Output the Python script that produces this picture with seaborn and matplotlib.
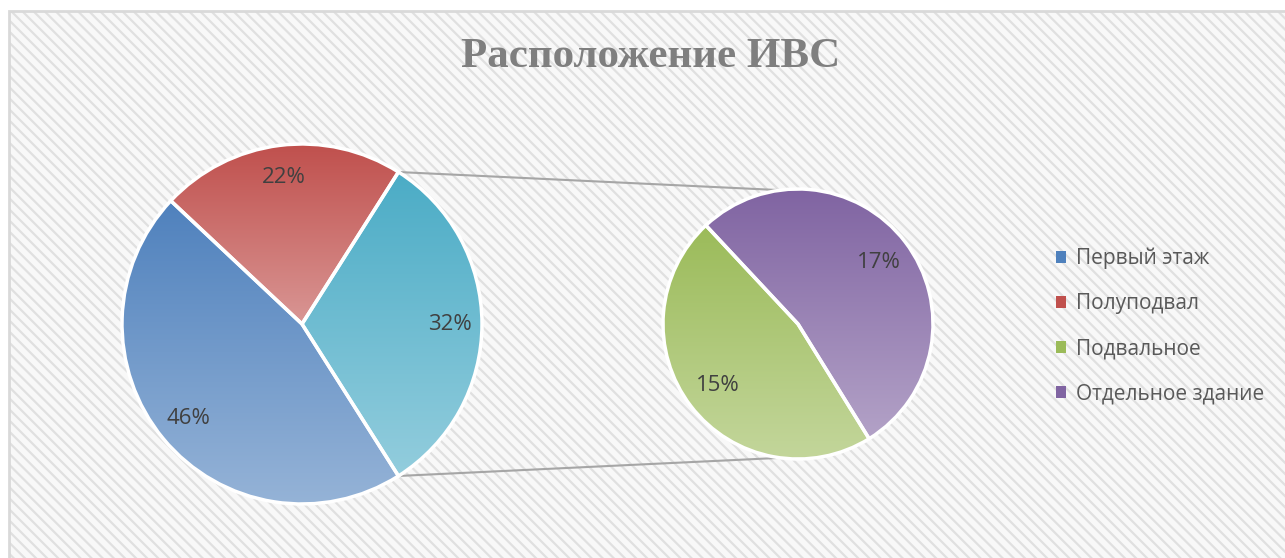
import numpy as np
import matplotlib
matplotlib.use("Agg")
import matplotlib.pyplot as plt
import seaborn as sns
from matplotlib.patches import Rectangle, Patch
from matplotlib.colors import LinearSegmentedColormap

# ---- data ----
title = "Расположение ИВС"
categories = ["Первый этаж", "Полуподвал", "Подвальное", "Отдельное здание"]
values = [46, 22, 15, 17]
main_labels = ["46%", "22%", "32%"]
sub_labels = ["15%", "17%"]
dark_colors = ["#4f81bd", "#c0504d", "#9bbb59", "#8064a2"]
light_colors = ["#95b3d7", "#d99694", "#c3d69b", "#b3a2c7"]
other_dark, other_light = "#4bacc6", "#93cddd"

sns.set_style("white")
plt.rcParams["font.family"] = ["Open Sans", "DejaVu Sans"]
plt.rcParams["hatch.linewidth"] = 1.6

W, H = 1285, 558
fig = plt.figure(figsize=(W / 100, H / 100), dpi=100)
ax = fig.add_axes([0, 0, 1, 1])
ax.set_xlim(0, W)
ax.set_ylim(0, H)
ax.axis("off")

# background with diagonal stripes
ax.add_patch(Rectangle((9, -20), W + 20, H - 11 + 20, facecolor="#f8f8f8",
                       edgecolor="#e0e0e0", hatch="\\\\\\", lw=0, zorder=0))
ax.add_patch(Rectangle((9, -20), W + 20, H - 11 + 20, facecolor="none",
                       edgecolor="#d9d9d9", lw=2, zorder=0.5))

main_vals = [values[0], values[1], values[2] + values[3]]
sub_vals = [values[2], values[3]]
main_center, main_r = (302, H - 324), 180
sub_center, sub_r = (798, H - 324), 135

wedge_props = dict(edgecolor="white", linewidth=2.5, facecolor="none")
text_props = dict(color="#404040", fontsize=16)

mw, mt = ax.pie(main_vals, labels=None, center=main_center, radius=main_r,
                counterclock=False, startangle=-57.6, wedgeprops=wedge_props,
                frame=True)
sw, st = ax.pie(sub_vals, labels=None, center=sub_center, radius=sub_r,
                counterclock=False, startangle=-58.2, wedgeprops=wedge_props,
                frame=True)


def gradient_fill(wedge, dark, light):
    ext = wedge.get_extents().transformed(ax.transData.inverted())
    cmap = LinearSegmentedColormap.from_list("g", [light, dark])
    grad = np.linspace(0, 1, 256).reshape(-1, 1)
    im = ax.imshow(grad, extent=[ext.x0, ext.x1, ext.y0, ext.y1], origin="lower",
                   cmap=cmap, aspect="auto", zorder=1, interpolation="bilinear")
    im.set_clip_path(wedge)
    wedge.set_zorder(2)


main_dark = [dark_colors[0], dark_colors[1], other_dark]
main_light = [light_colors[0], light_colors[1], other_light]
for w, d, l in zip(mw, main_dark, main_light):
    gradient_fill(w, d, l)
for w, d, l in zip(sw, dark_colors[2:], light_colors[2:]):
    gradient_fill(w, d, l)


def place_labels(wedges, labels, center, r, frac):
    for w, lab in zip(wedges, labels):
        ang = np.deg2rad((w.theta1 + w.theta2) / 2)
        ax.text(center[0] + frac * r * np.cos(ang), center[1] + frac * r * np.sin(ang),
                lab, ha="center", va="center", zorder=3, **text_props)


place_labels(mw, main_labels, main_center, main_r, 0.82)
place_labels(sw, sub_labels, sub_center, sub_r, 0.75)

# connector lines between the "other" slice and the secondary pie
other = mw[2]
for ang_main, ang_sub in [(other.theta2, 97.5), (other.theta1, -97.5)]:
    a1, a2 = np.deg2rad(ang_main), np.deg2rad(ang_sub)
    ax.plot([main_center[0] + main_r * np.cos(a1), sub_center[0] + sub_r * np.cos(a2)],
            [main_center[1] + main_r * np.sin(a1), sub_center[1] + sub_r * np.sin(a2)],
            color="#a6a6a6", lw=1.5, zorder=1.5, solid_capstyle="butt")

ax.set_xlim(0, W)
ax.set_ylim(0, H)
ax.set_aspect("equal")
ax.axis("off")

# title
ax.text(651, H - 57, title, ha="center", va="center", fontsize=31,
        fontweight="bold", color="#7f7f7f", family=["Liberation Serif", "DejaVu Serif"],
        zorder=3)

# legend
handles = [Patch(facecolor=c, edgecolor="none") for c in dark_colors]
leg = ax.legend(handles, categories, loc="upper left",
                bbox_to_anchor=(1037 / W, 1 - 229 / H), frameon=False,
                fontsize=15, labelcolor="#595959", handlelength=0.5,
                handleheight=0.5, handletextpad=0.45, labelspacing=1.15)
leg.set_zorder(4)

fig.savefig("out.png", dpi=100)
